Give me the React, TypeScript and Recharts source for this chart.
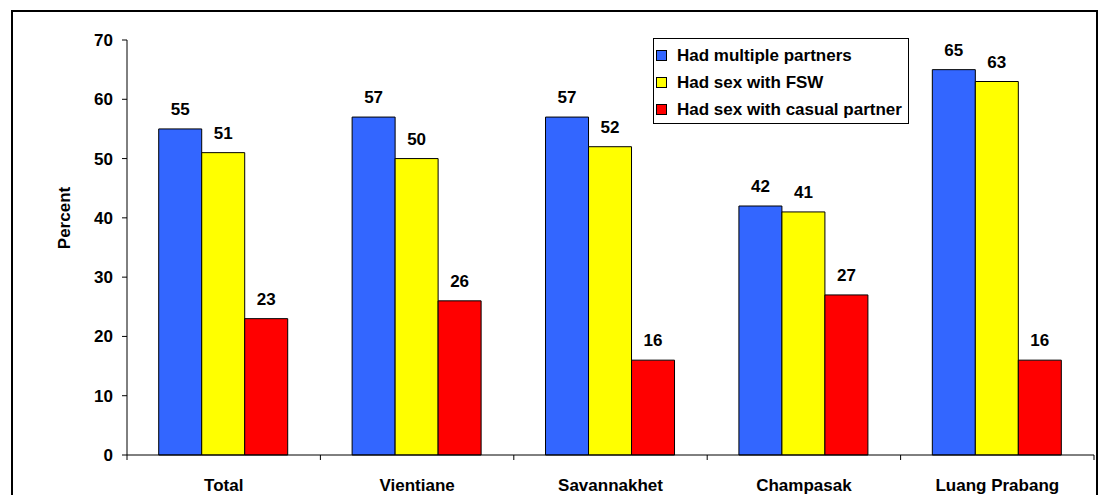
import { BarChart, Bar, XAxis, YAxis, Legend, LabelList, Label } from "recharts";

const regions = ["Total", "Vientiane", "Savannakhet", "Champasak", "Luang Prabang"];
const multiplePartners = [55, 57, 57, 42, 65];
const sexWithFsw = [51, 50, 52, 41, 63];
const casualPartner = [23, 26, 16, 27, 16];
const yTicks = [0, 10, 20, 30, 40, 50, 60, 70];

const seriesNames = {
  multiple: "Had multiple partners",
  fsw: "Had sex with FSW",
  casual: "Had sex with casual partner",
};

const data = regions.map((region, i) => ({
  region,
  multiple: multiplePartners[i],
  fsw: sexWithFsw[i],
  casual: casualPartner[i],
}));

const FONT = "'Liberation Sans', Arial, sans-serif";
const W = 1102;
const H = 495;
const margin = { top: 40, right: 8, bottom: 0, left: 0 };
const yAxisWidth = 127;
const plotWidth = W - margin.left - margin.right - yAxisWidth;
const band = plotWidth / regions.length;

function RegionTick(props: any) {
  const { x, y, payload, index } = props;
  // axis line sits above the label by tickSize + tickMargin
  const axisY = y - 5 - 17;
  return (
    <g>
      <line x1={x - band / 2} x2={x - band / 2} y1={axisY} y2={axisY + 5} stroke="#000" />
      {index === regions.length - 1 && (
        <line x1={x + band / 2} x2={x + band / 2} y1={axisY} y2={axisY + 5} stroke="#000" />
      )}
      <text x={x} y={y + 14} textAnchor="middle" fontFamily={FONT} fontWeight="bold" fontSize={17} fill="#000">
        {payload.value}
      </text>
    </g>
  );
}

function LegendBox(props: any) {
  const items = props.payload || [];
  return (
    <div
      style={{
        border: "1px solid #000",
        background: "#fff",
        width: 256,
        height: 86,
        paddingTop: 3,
        boxSizing: "border-box",
        fontFamily: FONT,
        fontWeight: "bold",
        fontSize: 17,
        color: "#000",
      }}
    >
      {items.map((it: any) => (
        <div key={it.value} style={{ display: "flex", alignItems: "center", height: 27, paddingLeft: 2, whiteSpace: "nowrap" }}>
          <span
            style={{
              display: "inline-block",
              width: 9,
              height: 9,
              border: "1px solid #000",
              background: it.color,
              marginRight: 10,
              flexShrink: 0,
            }}
          />
          <span>{it.value}</span>
        </div>
      ))}
    </div>
  );
}

export default function App() {
  return (
    <div style={{ position: "absolute", left: 0, top: 0, width: W, height: H, overflow: "hidden", background: "#fff" }}>
      <div
        style={{
          position: "absolute",
          left: 11,
          top: 10,
          width: 1083,
          height: 520,
          border: "2px solid #000",
        }}
      />
      <div style={{ position: "absolute", left: 0, top: 0 }}>
        <BarChart width={W} height={H} data={data} margin={margin} barGap={0} barCategoryGap="16.4%">
          <XAxis
            dataKey="region"
            height={40}
            axisLine={{ stroke: "#000" }}
            tickLine={false}
            tickSize={5}
            tickMargin={17}
            tick={<RegionTick />}
            interval={0}
          />
          <YAxis
            width={yAxisWidth}
            domain={[0, 70]}
            ticks={yTicks}
            interval={0}
            axisLine={{ stroke: "#000" }}
            tickLine={{ stroke: "#000" }}
            tickSize={5}
            tickMargin={9}
            tick={{ fontFamily: FONT, fontWeight: "bold", fontSize: 17, fill: "#000" }}
          >
            <Label
              content={() => (
                <text
                  x={64}
                  y={218}
                  transform="rotate(-90 64 218)"
                  textAnchor="middle"
                  dominantBaseline="central"
                  fontFamily={FONT}
                  fontWeight="bold"
                  fontSize={17}
                  fill="#000"
                >
                  Percent
                </text>
              )}
            />
          </YAxis>
          <Legend
            layout="vertical"
            verticalAlign="middle"
            align="center"
            content={<LegendBox />}
            wrapperStyle={{ left: 653, top: 38, width: 256, height: 86 }}
          />
          <Bar dataKey="multiple" name={seriesNames.multiple} fill="#3366FF" stroke="#000" strokeWidth={1} isAnimationActive={false}>
            <LabelList dataKey="multiple" position="top" offset={14} fill="#000" fontFamily={FONT} fontWeight="bold" fontSize={17} />
          </Bar>
          <Bar dataKey="fsw" name={seriesNames.fsw} fill="#FFFF00" stroke="#000" strokeWidth={1} isAnimationActive={false}>
            <LabelList dataKey="fsw" position="top" offset={14} fill="#000" fontFamily={FONT} fontWeight="bold" fontSize={17} />
          </Bar>
          <Bar dataKey="casual" name={seriesNames.casual} fill="#FF0000" stroke="#000" strokeWidth={1} isAnimationActive={false}>
            <LabelList dataKey="casual" position="top" offset={14} fill="#000" fontFamily={FONT} fontWeight="bold" fontSize={17} />
          </Bar>
        </BarChart>
      </div>
    </div>
  );
}
